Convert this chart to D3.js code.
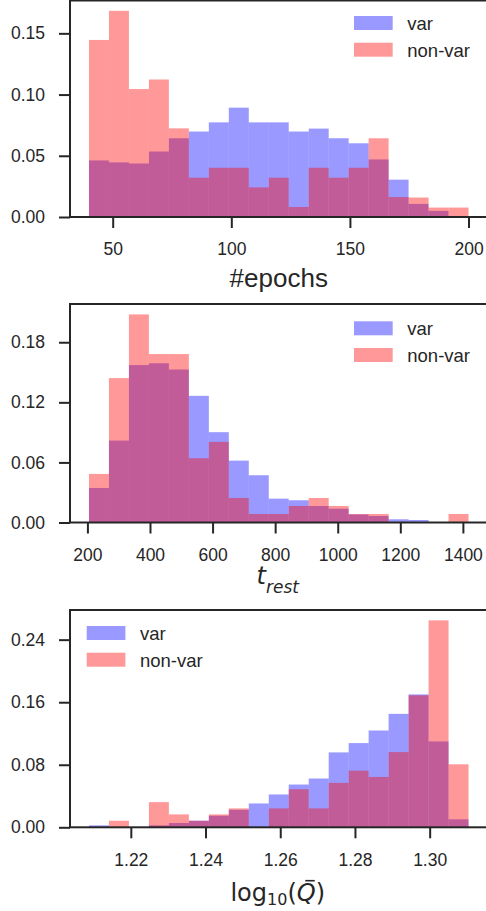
<!DOCTYPE html>
<html><head><meta charset="utf-8">
<script src="https://cdn.jsdelivr.net/npm/d3@7"></script>
<style>body{margin:0;background:#fff}</style>
</head><body>
<svg id="c" width="486" height="911"></svg>
<script>
// ---------- data ----------
const seriesNames = ["var", "non-var"];

// panel 1: #epochs (19 equal bins)
const epochsRange = [40, 200];
const epochsVar    = [0.0462,0.0446,0.0437,0.0535,0.0643,0.0698,0.0773,0.0893,0.0773,0.0773,0.0698,0.0722,0.0643,0.0602,0.0470,0.0305,0.0107,0.0050,0];
const epochsNonVar = [0.1446,0.1684,0.1045,0.1123,0.0724,0.0321,0.0402,0.0402,0.0242,0.0321,0.0082,0.0402,0.0321,0.0402,0.0643,0.0163,0.0159,0.0077,0.0077];
const epochsXTicks = [50, 100, 150, 200];
const epochsYTicks = [0, 0.05, 0.10, 0.15];

// panel 2: t_rest
const trestRange = [205, 1418];
const trestVar    = [0.0345,0.0818,0.1572,0.1590,0.1528,0.1265,0.0902,0.0618,0.0472,0.0238,0.0222,0.0165,0.0138,0.0080,0.0065,0.0032,0.0025,0,0];
const trestNonVar = [0.0485,0.1442,0.2078,0.1682,0.1682,0.0642,0.0805,0.0245,0.0085,0.0085,0.0165,0.0245,0.0165,0.0085,0.0085,0,0,0,0.0085];
const trestXTicks = [200, 400, 600, 800, 1000, 1200, 1400];
const trestYTicks = [0, 0.06, 0.12, 0.18];

// panel 3: log10(Q-bar)
const logqRange = [1.2088, 1.3104];
const logqVar    = [0.0025,0,0,0.0025,0.0055,0.0084,0.0148,0.0224,0.0305,0.0420,0.0547,0.0624,0.0958,0.1077,0.1238,0.1451,0.1700,0.1098,0.0102];
const logqNonVar = [0,0.0084,0,0.0322,0.0165,0.0084,0.0165,0.0242,0,0.0242,0.0487,0.0242,0.0568,0.0725,0.0644,0.0962,0.1688,0.2647,0.0806];
const logqXTicks = [1.22, 1.24, 1.26, 1.28, 1.30];
const logqYTicks = [0, 0.08, 0.16, 0.24];

// ---------- drawing ----------
const svg = d3.select("#c");
const INK = "#262626";
const COLORS = ["#0000ff", "#ff0000"];
const TICKFONT = "Liberation Sans, Arial, sans-serif";
const X0 = 70, X1 = 487.5;

const panels = [
  {range: epochsRange, series: [epochsVar, epochsNonVar], xt: epochsXTicks, yt: epochsYTicks,
   xf: d3.format("d"), yf: d3.format(".2f"), top: 0.5, bottom: 217, leg: [354, 16, 407.3], label: "epochs"},
  {range: trestRange, series: [trestVar, trestNonVar], xt: trestXTicks, yt: trestYTicks,
   xf: d3.format("d"), yf: d3.format(".2f"), top: 304, bottom: 522.5, leg: [354, 321.3, 407.3], label: "trest"},
  {range: logqRange, series: [logqVar, logqNonVar], xt: logqXTicks, yt: logqYTicks,
   xf: d3.format(".2f"), yf: d3.format(".2f"), top: 610, bottom: 827.3, leg: [86.7, 626, 140], label: "logq"}
];

panels.forEach(p => {
  const n = p.series[0].length;
  const span = p.range[1] - p.range[0];
  const pad = span * 0.05;
  const x = d3.scaleLinear().domain([p.range[0] - pad, p.range[1] + pad]).range([X0, X1]);
  const ymax = d3.max(p.series.flat()) * 1.05;
  const y = d3.scaleLinear().domain([0, ymax]).range([p.bottom, p.top]);
  const edges = d3.range(n + 1).map(i => p.range[0] + span * i / n);

  const g = svg.append("g");
  p.series.forEach((vals, si) => {
    g.append("g").selectAll("rect")
      .data(vals.map((v, i) => ({v, a: edges[i], b: edges[i + 1]})).filter(d => d.v > 0))
      .join("rect")
      .attr("x", d => x(d.a))
      .attr("width", d => x(d.b) - x(d.a))
      .attr("y", d => y(d.v))
      .attr("height", d => y(0) - y(d.v))
      .attr("fill", COLORS[si])
      .attr("fill-opacity", 0.4);
  });

  // axes
  const xa = g.append("g").attr("transform", `translate(0,${p.bottom})`)
    .call(d3.axisBottom(x).tickValues(p.xt).tickFormat(p.xf).tickSize(11).tickPadding(15));
  const ya = g.append("g").attr("transform", `translate(${X0},0)`)
    .call(d3.axisLeft(y).tickValues(p.yt).tickFormat(p.yf).tickSize(11).tickPadding(14));
  [xa, ya].forEach(a => {
    a.select(".domain").remove();
    a.selectAll(".tick line").attr("stroke", INK).attr("stroke-width", 2);
    a.selectAll(".tick text").attr("fill", INK).style("font-family", TICKFONT).style("font-size", "17.5px");
  });

  // spines
  g.append("rect").attr("x", X0).attr("y", p.top).attr("width", X1 - X0).attr("height", p.bottom - p.top)
    .attr("fill", "none").attr("stroke", INK).attr("stroke-width", 2);

  // legend
  const [lx, ly, tx] = p.leg;
  seriesNames.forEach((name, si) => {
    const yy = ly + si * 26.7;
    g.append("rect").attr("x", lx).attr("y", yy).attr("width", 38.7).attr("height", 14)
      .attr("fill", COLORS[si]).attr("fill-opacity", 0.4);
    g.append("text").attr("x", tx).attr("y", yy + 14).text(name)
      .attr("fill", INK).style("font-family", TICKFONT).style("font-size", "18.5px");
  });

  // axis label
  const cx = (X0 + X1) / 2;
  if (p.label === "epochs") {
    g.append("text").attr("x", cx).attr("y", 286.7).attr("text-anchor", "middle")
      .attr("fill", INK).style("font-family", TICKFONT).style("font-size", "26px").text("#epochs");
  } else if (p.label === "trest") {
    const t = g.append("text").attr("x", cx - 1).attr("y", 584).attr("text-anchor", "middle")
      .attr("fill", INK).style("font-family", "DejaVu Sans").style("font-style", "italic").style("font-size", "24px");
    t.append("tspan").text("t");
    t.append("tspan").attr("dy", 8.7).style("font-size", "17px").text("rest");
  } else {
    const t = g.append("text").attr("x", cx - 1).attr("y", 900.7).attr("text-anchor", "middle")
      .attr("fill", INK).style("font-family", "DejaVu Sans").style("font-size", "24px");
    t.append("tspan").text("log");
    t.append("tspan").attr("dy", 4.3).style("font-size", "16px").text("10");
    t.append("tspan").attr("dy", -4.3).text("(");
    t.append("tspan").style("font-style", "italic").text("Q");
    t.append("tspan").text(")");
    const ext = t.node().getExtentOfChar(6);
    g.append("line")
      .attr("x1", ext.x + ext.width * 0.45).attr("x2", ext.x + ext.width * 0.95)
      .attr("y1", ext.y + 2).attr("y2", ext.y + 2)
      .attr("stroke", INK).attr("stroke-width", 1.6);
  }
});
</script>
</body></html>
